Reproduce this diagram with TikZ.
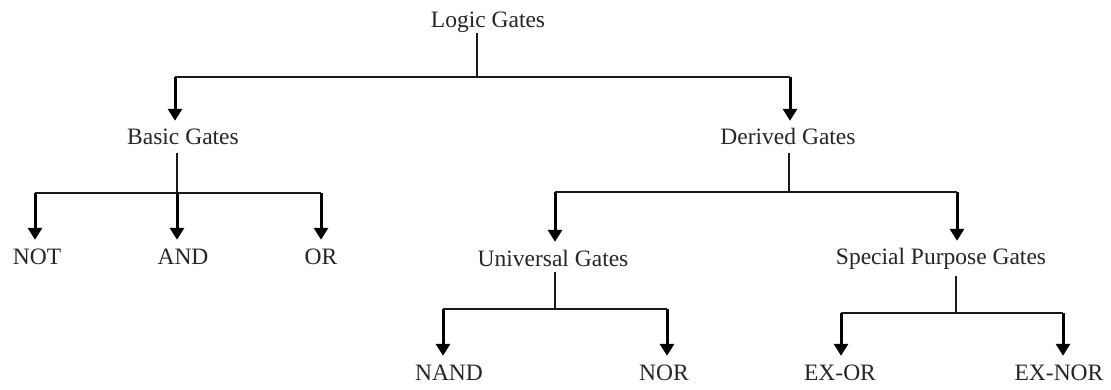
\documentclass[tikz,border=0pt]{standalone}
\usepackage{fontspec}
\setmainfont{Liberation Serif}
\usetikzlibrary{arrows.meta}
\begin{document}
\begin{tikzpicture}[x=1pt,y=-1pt,
  lbl/.style={anchor=base,inner sep=0pt,text height=24pt,text depth=8pt,
              font=\fontsize{23.5}{28}\selectfont,text=black!85},
  stem/.style={line width=1.3pt,draw=black!90},
  bar/.style={line width=1.8pt,draw=black!90},
  arr/.style={line width=3pt,draw=black,-{Triangle[width=14pt,length=12pt]}}]
\useasboundingbox[fill=white] (0,0) rectangle (1111,390);

% nodes
\node[lbl,text depth=5pt] (lg) at (488,28) {Logic Gates};
\node[lbl] (bg) at (183,145) {Basic Gates};
\node[lbl] (dg) at (788,145) {Derived Gates};
\node[lbl] (not) at (37,264) {NOT};
\node[lbl] (and) at (183,264) {AND};
\node[lbl] (or) at (321,264) {OR};
\node[lbl,text depth=6pt] (ug) at (553,266) {Universal Gates};
\node[lbl,text depth=11pt] (sg) at (941,265) {Special Purpose Gates};
\node[lbl] (nand) at (449,380) {NAND};
\node[lbl] (nor) at (664,380) {NOR};
\node[lbl] (exor) at (840,380) {EX-OR};
\node[lbl] (exnor) at (1059,380) {EX-NOR};

% level 0
\coordinate (j0) at (477,77);
\coordinate (l0) at (175,77);
\coordinate (r0) at (790,77);
\draw[stem] (lg.south -| j0) -- (j0);
\draw[bar] (l0) -- (r0);
\draw[arr] (l0) -- (l0 |- bg.north);
\draw[arr] (r0) -- (r0 |- dg.north);

% basic gates
\coordinate (j1) at (177,193);
\coordinate (a1) at (35,193);
\coordinate (a3) at (321,193);
\draw[stem] (bg.south -| j1) -- (j1);
\draw[bar] (a1) -- (a3);
\draw[arr] (a1) -- (a1 |- not.north);
\draw[arr] (j1) -- (j1 |- and.north);
\draw[arr] (a3) -- (a3 |- or.north);

% derived gates
\coordinate (j2) at (789,192);
\coordinate (b1) at (555,192);
\coordinate (b2) at (957,192);
\draw[stem] (dg.south -| j2) -- (j2);
\draw[bar] (b1) -- (b2);
\draw[arr] (b1) -- (b1 |- ug.north);
\draw[arr] (b2) -- (b2 |- sg.north);

% universal gates
\coordinate (j3) at (555,309);
\coordinate (c1) at (443,309);
\coordinate (c2) at (667,309);
\draw[stem] (ug.south -| j3) -- (j3);
\draw[bar] (c1) -- (c2);
\draw[arr] (c1) -- (c1 |- nand.north);
\draw[arr] (c2) -- (c2 |- nor.north);

% special purpose gates
\coordinate (j4) at (956,313);
\coordinate (d1) at (841,313);
\coordinate (d2) at (1063,313);
\draw[stem] (sg.south -| j4) -- (j4);
\draw[bar] (d1) -- (d2);
\draw[arr] (d1) -- (d1 |- exor.north);
\draw[arr] (d2) -- (d2 |- exnor.north);
\end{tikzpicture}
\end{document}
